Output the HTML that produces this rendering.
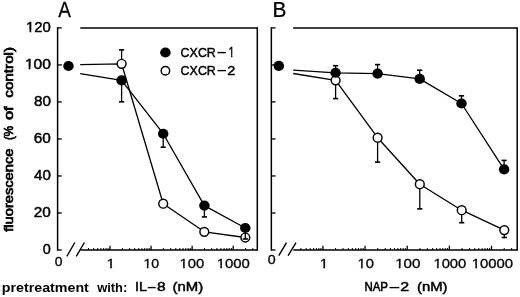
<!DOCTYPE html>
<html><head><meta charset="utf-8"><title>Figure</title>
<style>
html,body{margin:0;padding:0;background:#fff;}
svg{display:block;}
svg text{font-family:"Liberation Sans",sans-serif;fill:#000;}
svg line,svg polyline,svg circle{stroke:#000;}
</style></head><body>
<svg width="520" height="297" viewBox="0 0 520 297">
<rect x="0" y="0" width="520" height="297" fill="#fff" stroke="none"/>
<line x1="57.60" y1="27.15" x2="57.60" y2="250.75" stroke-width="1.5" stroke-linecap="butt"/>
<line x1="257.30" y1="27.15" x2="257.30" y2="250.75" stroke-width="1.5" stroke-linecap="butt"/>
<line x1="80.30" y1="27.90" x2="257.30" y2="27.90" stroke-width="1.5" stroke-linecap="butt"/>
<line x1="80.50" y1="250.00" x2="257.30" y2="250.00" stroke-width="1.5" stroke-linecap="butt"/>
<line x1="57.60" y1="250.00" x2="61.80" y2="250.00" stroke-width="1.3" stroke-linecap="butt"/>
<line x1="57.60" y1="212.98" x2="61.80" y2="212.98" stroke-width="1.3" stroke-linecap="butt"/>
<line x1="57.60" y1="175.97" x2="61.80" y2="175.97" stroke-width="1.3" stroke-linecap="butt"/>
<line x1="57.60" y1="138.95" x2="61.80" y2="138.95" stroke-width="1.3" stroke-linecap="butt"/>
<line x1="57.60" y1="101.93" x2="61.80" y2="101.93" stroke-width="1.3" stroke-linecap="butt"/>
<line x1="57.60" y1="64.92" x2="61.80" y2="64.92" stroke-width="1.3" stroke-linecap="butt"/>
<line x1="57.60" y1="27.90" x2="61.80" y2="27.90" stroke-width="1.3" stroke-linecap="butt"/>
<line x1="66.90" y1="256.30" x2="74.80" y2="242.50" stroke-width="1.4" stroke-linecap="butt"/>
<line x1="76.30" y1="256.30" x2="84.40" y2="242.50" stroke-width="1.4" stroke-linecap="butt"/>
<line x1="88.53" y1="250.00" x2="88.53" y2="248.00" stroke-width="1.0" stroke-linecap="butt"/>
<line x1="93.66" y1="250.00" x2="93.66" y2="248.00" stroke-width="1.0" stroke-linecap="butt"/>
<line x1="97.64" y1="250.00" x2="97.64" y2="248.00" stroke-width="1.0" stroke-linecap="butt"/>
<line x1="100.89" y1="250.00" x2="100.89" y2="248.00" stroke-width="1.0" stroke-linecap="butt"/>
<line x1="103.64" y1="250.00" x2="103.64" y2="248.00" stroke-width="1.0" stroke-linecap="butt"/>
<line x1="106.02" y1="250.00" x2="106.02" y2="248.00" stroke-width="1.0" stroke-linecap="butt"/>
<line x1="108.12" y1="250.00" x2="108.12" y2="248.00" stroke-width="1.0" stroke-linecap="butt"/>
<line x1="110.00" y1="250.00" x2="110.00" y2="245.80" stroke-width="1.3" stroke-linecap="butt"/>
<line x1="122.36" y1="250.00" x2="122.36" y2="248.00" stroke-width="1.0" stroke-linecap="butt"/>
<line x1="129.60" y1="250.00" x2="129.60" y2="248.00" stroke-width="1.0" stroke-linecap="butt"/>
<line x1="134.73" y1="250.00" x2="134.73" y2="248.00" stroke-width="1.0" stroke-linecap="butt"/>
<line x1="138.71" y1="250.00" x2="138.71" y2="248.00" stroke-width="1.0" stroke-linecap="butt"/>
<line x1="141.96" y1="250.00" x2="141.96" y2="248.00" stroke-width="1.0" stroke-linecap="butt"/>
<line x1="144.71" y1="250.00" x2="144.71" y2="248.00" stroke-width="1.0" stroke-linecap="butt"/>
<line x1="147.09" y1="250.00" x2="147.09" y2="248.00" stroke-width="1.0" stroke-linecap="butt"/>
<line x1="149.19" y1="250.00" x2="149.19" y2="248.00" stroke-width="1.0" stroke-linecap="butt"/>
<line x1="151.07" y1="250.00" x2="151.07" y2="245.80" stroke-width="1.3" stroke-linecap="butt"/>
<line x1="163.43" y1="250.00" x2="163.43" y2="248.00" stroke-width="1.0" stroke-linecap="butt"/>
<line x1="170.67" y1="250.00" x2="170.67" y2="248.00" stroke-width="1.0" stroke-linecap="butt"/>
<line x1="175.80" y1="250.00" x2="175.80" y2="248.00" stroke-width="1.0" stroke-linecap="butt"/>
<line x1="179.78" y1="250.00" x2="179.78" y2="248.00" stroke-width="1.0" stroke-linecap="butt"/>
<line x1="183.03" y1="250.00" x2="183.03" y2="248.00" stroke-width="1.0" stroke-linecap="butt"/>
<line x1="185.78" y1="250.00" x2="185.78" y2="248.00" stroke-width="1.0" stroke-linecap="butt"/>
<line x1="188.16" y1="250.00" x2="188.16" y2="248.00" stroke-width="1.0" stroke-linecap="butt"/>
<line x1="190.26" y1="250.00" x2="190.26" y2="248.00" stroke-width="1.0" stroke-linecap="butt"/>
<line x1="192.14" y1="250.00" x2="192.14" y2="245.80" stroke-width="1.3" stroke-linecap="butt"/>
<line x1="204.50" y1="250.00" x2="204.50" y2="248.00" stroke-width="1.0" stroke-linecap="butt"/>
<line x1="211.74" y1="250.00" x2="211.74" y2="248.00" stroke-width="1.0" stroke-linecap="butt"/>
<line x1="216.87" y1="250.00" x2="216.87" y2="248.00" stroke-width="1.0" stroke-linecap="butt"/>
<line x1="220.85" y1="250.00" x2="220.85" y2="248.00" stroke-width="1.0" stroke-linecap="butt"/>
<line x1="224.10" y1="250.00" x2="224.10" y2="248.00" stroke-width="1.0" stroke-linecap="butt"/>
<line x1="226.85" y1="250.00" x2="226.85" y2="248.00" stroke-width="1.0" stroke-linecap="butt"/>
<line x1="229.23" y1="250.00" x2="229.23" y2="248.00" stroke-width="1.0" stroke-linecap="butt"/>
<line x1="231.33" y1="250.00" x2="231.33" y2="248.00" stroke-width="1.0" stroke-linecap="butt"/>
<line x1="233.21" y1="250.00" x2="233.21" y2="245.80" stroke-width="1.3" stroke-linecap="butt"/>
<line x1="245.57" y1="250.00" x2="245.57" y2="248.00" stroke-width="1.0" stroke-linecap="butt"/>
<line x1="252.81" y1="250.00" x2="252.81" y2="248.00" stroke-width="1.0" stroke-linecap="butt"/>
<line x1="271.35" y1="27.15" x2="271.35" y2="250.75" stroke-width="1.5" stroke-linecap="butt"/>
<line x1="517.20" y1="27.15" x2="517.20" y2="250.75" stroke-width="1.5" stroke-linecap="butt"/>
<line x1="293.10" y1="27.90" x2="517.20" y2="27.90" stroke-width="1.5" stroke-linecap="butt"/>
<line x1="293.30" y1="250.00" x2="517.20" y2="250.00" stroke-width="1.5" stroke-linecap="butt"/>
<line x1="271.35" y1="250.00" x2="275.55" y2="250.00" stroke-width="1.3" stroke-linecap="butt"/>
<line x1="271.35" y1="212.98" x2="275.55" y2="212.98" stroke-width="1.3" stroke-linecap="butt"/>
<line x1="271.35" y1="175.97" x2="275.55" y2="175.97" stroke-width="1.3" stroke-linecap="butt"/>
<line x1="271.35" y1="138.95" x2="275.55" y2="138.95" stroke-width="1.3" stroke-linecap="butt"/>
<line x1="271.35" y1="101.93" x2="275.55" y2="101.93" stroke-width="1.3" stroke-linecap="butt"/>
<line x1="271.35" y1="64.92" x2="275.55" y2="64.92" stroke-width="1.3" stroke-linecap="butt"/>
<line x1="271.35" y1="27.90" x2="275.55" y2="27.90" stroke-width="1.3" stroke-linecap="butt"/>
<line x1="278.80" y1="255.60" x2="286.50" y2="242.70" stroke-width="1.4" stroke-linecap="butt"/>
<line x1="288.10" y1="255.60" x2="296.00" y2="242.70" stroke-width="1.4" stroke-linecap="butt"/>
<line x1="300.86" y1="250.00" x2="300.86" y2="248.00" stroke-width="1.0" stroke-linecap="butt"/>
<line x1="306.13" y1="250.00" x2="306.13" y2="248.00" stroke-width="1.0" stroke-linecap="butt"/>
<line x1="310.21" y1="250.00" x2="310.21" y2="248.00" stroke-width="1.0" stroke-linecap="butt"/>
<line x1="313.55" y1="250.00" x2="313.55" y2="248.00" stroke-width="1.0" stroke-linecap="butt"/>
<line x1="316.37" y1="250.00" x2="316.37" y2="248.00" stroke-width="1.0" stroke-linecap="butt"/>
<line x1="318.82" y1="250.00" x2="318.82" y2="248.00" stroke-width="1.0" stroke-linecap="butt"/>
<line x1="320.97" y1="250.00" x2="320.97" y2="248.00" stroke-width="1.0" stroke-linecap="butt"/>
<line x1="322.90" y1="250.00" x2="322.90" y2="245.80" stroke-width="1.3" stroke-linecap="butt"/>
<line x1="335.59" y1="250.00" x2="335.59" y2="248.00" stroke-width="1.0" stroke-linecap="butt"/>
<line x1="343.01" y1="250.00" x2="343.01" y2="248.00" stroke-width="1.0" stroke-linecap="butt"/>
<line x1="348.28" y1="250.00" x2="348.28" y2="248.00" stroke-width="1.0" stroke-linecap="butt"/>
<line x1="352.36" y1="250.00" x2="352.36" y2="248.00" stroke-width="1.0" stroke-linecap="butt"/>
<line x1="355.70" y1="250.00" x2="355.70" y2="248.00" stroke-width="1.0" stroke-linecap="butt"/>
<line x1="358.52" y1="250.00" x2="358.52" y2="248.00" stroke-width="1.0" stroke-linecap="butt"/>
<line x1="360.97" y1="250.00" x2="360.97" y2="248.00" stroke-width="1.0" stroke-linecap="butt"/>
<line x1="363.12" y1="250.00" x2="363.12" y2="248.00" stroke-width="1.0" stroke-linecap="butt"/>
<line x1="365.05" y1="250.00" x2="365.05" y2="245.80" stroke-width="1.3" stroke-linecap="butt"/>
<line x1="377.74" y1="250.00" x2="377.74" y2="248.00" stroke-width="1.0" stroke-linecap="butt"/>
<line x1="385.16" y1="250.00" x2="385.16" y2="248.00" stroke-width="1.0" stroke-linecap="butt"/>
<line x1="390.43" y1="250.00" x2="390.43" y2="248.00" stroke-width="1.0" stroke-linecap="butt"/>
<line x1="394.51" y1="250.00" x2="394.51" y2="248.00" stroke-width="1.0" stroke-linecap="butt"/>
<line x1="397.85" y1="250.00" x2="397.85" y2="248.00" stroke-width="1.0" stroke-linecap="butt"/>
<line x1="400.67" y1="250.00" x2="400.67" y2="248.00" stroke-width="1.0" stroke-linecap="butt"/>
<line x1="403.12" y1="250.00" x2="403.12" y2="248.00" stroke-width="1.0" stroke-linecap="butt"/>
<line x1="405.27" y1="250.00" x2="405.27" y2="248.00" stroke-width="1.0" stroke-linecap="butt"/>
<line x1="407.20" y1="250.00" x2="407.20" y2="245.80" stroke-width="1.3" stroke-linecap="butt"/>
<line x1="419.89" y1="250.00" x2="419.89" y2="248.00" stroke-width="1.0" stroke-linecap="butt"/>
<line x1="427.31" y1="250.00" x2="427.31" y2="248.00" stroke-width="1.0" stroke-linecap="butt"/>
<line x1="432.58" y1="250.00" x2="432.58" y2="248.00" stroke-width="1.0" stroke-linecap="butt"/>
<line x1="436.66" y1="250.00" x2="436.66" y2="248.00" stroke-width="1.0" stroke-linecap="butt"/>
<line x1="440.00" y1="250.00" x2="440.00" y2="248.00" stroke-width="1.0" stroke-linecap="butt"/>
<line x1="442.82" y1="250.00" x2="442.82" y2="248.00" stroke-width="1.0" stroke-linecap="butt"/>
<line x1="445.27" y1="250.00" x2="445.27" y2="248.00" stroke-width="1.0" stroke-linecap="butt"/>
<line x1="447.42" y1="250.00" x2="447.42" y2="248.00" stroke-width="1.0" stroke-linecap="butt"/>
<line x1="449.35" y1="250.00" x2="449.35" y2="245.80" stroke-width="1.3" stroke-linecap="butt"/>
<line x1="462.04" y1="250.00" x2="462.04" y2="248.00" stroke-width="1.0" stroke-linecap="butt"/>
<line x1="469.46" y1="250.00" x2="469.46" y2="248.00" stroke-width="1.0" stroke-linecap="butt"/>
<line x1="474.73" y1="250.00" x2="474.73" y2="248.00" stroke-width="1.0" stroke-linecap="butt"/>
<line x1="478.81" y1="250.00" x2="478.81" y2="248.00" stroke-width="1.0" stroke-linecap="butt"/>
<line x1="482.15" y1="250.00" x2="482.15" y2="248.00" stroke-width="1.0" stroke-linecap="butt"/>
<line x1="484.97" y1="250.00" x2="484.97" y2="248.00" stroke-width="1.0" stroke-linecap="butt"/>
<line x1="487.42" y1="250.00" x2="487.42" y2="248.00" stroke-width="1.0" stroke-linecap="butt"/>
<line x1="489.57" y1="250.00" x2="489.57" y2="248.00" stroke-width="1.0" stroke-linecap="butt"/>
<line x1="491.50" y1="250.00" x2="491.50" y2="245.80" stroke-width="1.3" stroke-linecap="butt"/>
<line x1="504.19" y1="250.00" x2="504.19" y2="248.00" stroke-width="1.0" stroke-linecap="butt"/>
<line x1="511.61" y1="250.00" x2="511.61" y2="248.00" stroke-width="1.0" stroke-linecap="butt"/>
<polyline points="80.20,64.70 121.60,63.80 163.20,203.70 204.30,231.80 245.30,237.50" fill="none" stroke-width="1.3" stroke-linejoin="round"/>
<polyline points="80.20,73.70 121.60,80.40 163.20,133.70 204.40,205.60 245.30,228.00" fill="none" stroke-width="1.3" stroke-linejoin="round"/>
<line x1="121.60" y1="63.80" x2="121.60" y2="49.90" stroke-width="1.3" stroke-linecap="butt"/>
<line x1="119.00" y1="49.90" x2="124.20" y2="49.90" stroke-width="1.6" stroke-linecap="butt"/>
<circle cx="121.60" cy="63.80" r="4.4" fill="#fff" stroke-width="1.45"/>
<circle cx="163.20" cy="203.70" r="4.4" fill="#fff" stroke-width="1.45"/>
<circle cx="204.30" cy="231.80" r="4.4" fill="#fff" stroke-width="1.45"/>
<circle cx="245.30" cy="237.50" r="4.4" fill="#fff" stroke-width="1.45"/>
<line x1="121.60" y1="80.40" x2="121.60" y2="101.80" stroke-width="1.3" stroke-linecap="butt"/>
<line x1="119.00" y1="101.80" x2="124.20" y2="101.80" stroke-width="1.6" stroke-linecap="butt"/>
<line x1="163.20" y1="133.70" x2="163.20" y2="147.20" stroke-width="1.3" stroke-linecap="butt"/>
<line x1="160.60" y1="147.20" x2="165.80" y2="147.20" stroke-width="1.6" stroke-linecap="butt"/>
<line x1="204.40" y1="205.60" x2="204.40" y2="216.90" stroke-width="1.3" stroke-linecap="butt"/>
<line x1="201.80" y1="216.90" x2="207.00" y2="216.90" stroke-width="1.6" stroke-linecap="butt"/>
<line x1="245.30" y1="228.00" x2="245.30" y2="239.00" stroke-width="1.3" stroke-linecap="butt"/>
<line x1="242.70" y1="239.00" x2="247.90" y2="239.00" stroke-width="1.6" stroke-linecap="butt"/>
<ellipse cx="121.60" cy="80.40" rx="5.25" ry="5.05" fill="#000" stroke="none"/>
<ellipse cx="163.20" cy="133.70" rx="5.25" ry="5.05" fill="#000" stroke="none"/>
<ellipse cx="204.40" cy="205.60" rx="5.25" ry="5.05" fill="#000" stroke="none"/>
<ellipse cx="245.30" cy="228.00" rx="5.25" ry="5.05" fill="#000" stroke="none"/>
<ellipse cx="68.50" cy="66.00" rx="5.25" ry="5.05" fill="#000" stroke="none"/>
<polyline points="293.20,73.50 335.60,80.30 377.60,137.70 419.80,184.20 461.70,210.20 504.30,230.10" fill="none" stroke-width="1.3" stroke-linejoin="round"/>
<polyline points="293.20,70.10 335.60,72.80 377.60,73.60 419.70,78.90 461.50,103.50 504.10,169.40" fill="none" stroke-width="1.3" stroke-linejoin="round"/>
<line x1="335.60" y1="80.30" x2="335.60" y2="98.60" stroke-width="1.3" stroke-linecap="butt"/>
<line x1="333.00" y1="98.60" x2="338.20" y2="98.60" stroke-width="1.6" stroke-linecap="butt"/>
<line x1="377.60" y1="137.70" x2="377.60" y2="162.10" stroke-width="1.3" stroke-linecap="butt"/>
<line x1="375.00" y1="162.10" x2="380.20" y2="162.10" stroke-width="1.6" stroke-linecap="butt"/>
<line x1="419.80" y1="184.20" x2="419.80" y2="208.90" stroke-width="1.3" stroke-linecap="butt"/>
<line x1="417.20" y1="208.90" x2="422.40" y2="208.90" stroke-width="1.6" stroke-linecap="butt"/>
<line x1="461.70" y1="210.20" x2="461.70" y2="222.70" stroke-width="1.3" stroke-linecap="butt"/>
<line x1="459.10" y1="222.70" x2="464.30" y2="222.70" stroke-width="1.6" stroke-linecap="butt"/>
<line x1="504.30" y1="230.10" x2="504.30" y2="237.50" stroke-width="1.3" stroke-linecap="butt"/>
<line x1="501.70" y1="237.50" x2="506.90" y2="237.50" stroke-width="1.6" stroke-linecap="butt"/>
<circle cx="335.60" cy="80.30" r="4.4" fill="#fff" stroke-width="1.45"/>
<circle cx="377.60" cy="137.70" r="4.4" fill="#fff" stroke-width="1.45"/>
<circle cx="419.80" cy="184.20" r="4.4" fill="#fff" stroke-width="1.45"/>
<circle cx="461.70" cy="210.20" r="4.4" fill="#fff" stroke-width="1.45"/>
<circle cx="504.30" cy="230.10" r="4.4" fill="#fff" stroke-width="1.45"/>
<line x1="335.60" y1="72.80" x2="335.60" y2="65.70" stroke-width="1.3" stroke-linecap="butt"/>
<line x1="333.00" y1="65.70" x2="338.20" y2="65.70" stroke-width="1.6" stroke-linecap="butt"/>
<line x1="377.60" y1="73.60" x2="377.60" y2="64.60" stroke-width="1.3" stroke-linecap="butt"/>
<line x1="375.00" y1="64.60" x2="380.20" y2="64.60" stroke-width="1.6" stroke-linecap="butt"/>
<line x1="419.70" y1="78.90" x2="419.70" y2="70.20" stroke-width="1.3" stroke-linecap="butt"/>
<line x1="417.10" y1="70.20" x2="422.30" y2="70.20" stroke-width="1.6" stroke-linecap="butt"/>
<line x1="461.50" y1="103.50" x2="461.50" y2="95.80" stroke-width="1.3" stroke-linecap="butt"/>
<line x1="458.90" y1="95.80" x2="464.10" y2="95.80" stroke-width="1.6" stroke-linecap="butt"/>
<line x1="504.10" y1="169.40" x2="504.10" y2="160.40" stroke-width="1.3" stroke-linecap="butt"/>
<line x1="501.50" y1="160.40" x2="506.70" y2="160.40" stroke-width="1.6" stroke-linecap="butt"/>
<ellipse cx="335.60" cy="72.80" rx="5.25" ry="5.05" fill="#000" stroke="none"/>
<ellipse cx="377.60" cy="73.60" rx="5.25" ry="5.05" fill="#000" stroke="none"/>
<ellipse cx="419.70" cy="78.90" rx="5.25" ry="5.05" fill="#000" stroke="none"/>
<ellipse cx="461.50" cy="103.50" rx="5.25" ry="5.05" fill="#000" stroke="none"/>
<ellipse cx="504.10" cy="169.40" rx="5.25" ry="5.05" fill="#000" stroke="none"/>
<ellipse cx="278.80" cy="65.90" rx="5.25" ry="5.05" fill="#000" stroke="none"/>
<ellipse cx="165.40" cy="52.50" rx="5.25" ry="5.05" fill="#000" stroke="none"/>
<circle cx="165.40" cy="70.80" r="4.25" fill="#fff" stroke-width="1.4"/>
<g><text transform="translate(180.58,57.10) scale(0.9146,1)" font-size="13.62" stroke="#000" stroke-width="0.45">CXCR</text><text transform="translate(217.50,58.11) scale(1.1466,1.5713)" font-size="13.2">–</text><text transform="translate(228.60,57.10) scale(0.7697,1)" font-size="13.82" stroke="#000" stroke-width="0.45">1</text><rect x="228.85" y="54.88" width="2.24" height="3.04" fill="#fff"/><rect x="232.39" y="54.88" width="2.18" height="3.04" fill="#fff"/></g>
<g><text transform="translate(180.58,75.40) scale(0.9146,1)" font-size="13.62" stroke="#000" stroke-width="0.45">CXCR</text><text transform="translate(217.50,76.11) scale(1.1466,1.5713)" font-size="13.2">–</text><text transform="translate(227.37,75.40) scale(1.0650,1)" font-size="13.62" stroke="#000" stroke-width="0.45">2</text></g>
<text transform="translate(58.15,17.00) scale(0.8491,1)" font-size="22.40" stroke="#000" stroke-width="0.25">A</text>
<text transform="translate(272.58,16.90) scale(0.9816,1)" font-size="21.24" stroke="#000" stroke-width="0.25">B</text>
<text transform="translate(25.98,32.30) scale(1.0728,1)" font-size="13.91" stroke="#000" stroke-width="0.45">120</text>
<rect x="26.34" y="30.08" width="3.15" height="3.05" fill="#fff"/>
<rect x="31.30" y="30.08" width="3.06" height="3.05" fill="#fff"/>
<text transform="translate(24.93,69.32) scale(1.1191,1)" font-size="13.91" stroke="#000" stroke-width="0.45">100</text>
<rect x="25.30" y="67.09" width="3.28" height="3.05" fill="#fff"/>
<rect x="30.48" y="67.09" width="3.19" height="3.05" fill="#fff"/>
<text transform="translate(33.95,106.33) scale(1.0961,1)" font-size="13.91" stroke="#000" stroke-width="0.45">80</text>
<text transform="translate(33.83,143.35) scale(1.1041,1)" font-size="13.91" stroke="#000" stroke-width="0.45">60</text>
<text transform="translate(34.06,180.37) scale(1.0889,1)" font-size="13.91" stroke="#000" stroke-width="0.45">40</text>
<text transform="translate(33.83,217.38) scale(1.1041,1)" font-size="13.91" stroke="#000" stroke-width="0.45">20</text>
<text transform="translate(42.82,254.40) scale(1.0391,1)" font-size="13.91" stroke="#000" stroke-width="0.45">0</text>
<text transform="translate(54.65,266.20) scale(1.0479,1)" font-size="13.19" stroke="#000" stroke-width="0.32">0</text>
<text transform="translate(110.70,268.30) scale(1.1600,1)" text-anchor="middle" font-size="13.20" stroke="#000" stroke-width="0.32">1</text>
<rect x="106.87" y="266.20" width="3.23" height="2.86" fill="#fff"/>
<rect x="111.83" y="266.20" width="3.14" height="2.86" fill="#fff"/>
<text transform="translate(143.44,268.30) scale(1.0489,1)" font-size="13.48" stroke="#000" stroke-width="0.32">10</text>
<rect x="143.84" y="266.18" width="2.98" height="2.88" fill="#fff"/>
<rect x="148.41" y="266.18" width="2.90" height="2.88" fill="#fff"/>
<text transform="translate(179.59,268.30) scale(1.0975,1)" font-size="13.48" stroke="#000" stroke-width="0.32">100</text>
<rect x="180.01" y="266.18" width="3.12" height="2.88" fill="#fff"/>
<rect x="184.80" y="266.18" width="3.03" height="2.88" fill="#fff"/>
<text transform="translate(216.68,268.30) scale(1.1078,1)" font-size="13.48" stroke="#000" stroke-width="0.32">1000</text>
<rect x="217.10" y="266.18" width="3.15" height="2.88" fill="#fff"/>
<rect x="221.93" y="266.18" width="3.06" height="2.88" fill="#fff"/>
<text transform="translate(267.73,263.50) scale(1.0567,1)" font-size="13.48" stroke="#000" stroke-width="0.32">0</text>
<text transform="translate(323.90,268.40) scale(1.1600,1)" text-anchor="middle" font-size="13.20" stroke="#000" stroke-width="0.32">1</text>
<rect x="320.07" y="266.30" width="3.23" height="2.86" fill="#fff"/>
<rect x="325.03" y="266.30" width="3.14" height="2.86" fill="#fff"/>
<text transform="translate(357.49,268.40) scale(1.0820,1)" font-size="13.62" stroke="#000" stroke-width="0.32">10</text>
<rect x="357.91" y="266.26" width="3.11" height="2.90" fill="#fff"/>
<rect x="362.68" y="266.26" width="3.02" height="2.90" fill="#fff"/>
<text transform="translate(395.16,268.40) scale(1.1143,1)" font-size="13.62" stroke="#000" stroke-width="0.32">100</text>
<rect x="395.59" y="266.26" width="3.20" height="2.90" fill="#fff"/>
<rect x="400.50" y="266.26" width="3.11" height="2.90" fill="#fff"/>
<text transform="translate(433.39,268.40) scale(1.0891,1)" font-size="13.62" stroke="#000" stroke-width="0.32">1000</text>
<rect x="433.81" y="266.26" width="3.13" height="2.90" fill="#fff"/>
<rect x="438.61" y="266.26" width="3.04" height="2.90" fill="#fff"/>
<text transform="translate(471.78,268.40) scale(1.0927,1)" font-size="13.62" stroke="#000" stroke-width="0.32">10000</text>
<rect x="472.20" y="266.26" width="3.14" height="2.90" fill="#fff"/>
<rect x="477.02" y="266.26" width="3.05" height="2.90" fill="#fff"/>
<g><text transform="translate(1.87,292.10) scale(1.0478,1)" font-size="13.60" font-weight="bold">pretreatment</text> <text transform="translate(97.13,292.10) scale(0.9487,1)" font-size="13.60" font-weight="bold">with:</text> <g><text transform="translate(134.98,291.30) scale(1.0441,1)" font-size="13.67" stroke="#000" stroke-width="0.5">IL</text><text transform="translate(147.80,292.77) scale(1.0784,1.5152)" font-size="13.2">–</text><text transform="translate(156.94,291.30) scale(1.1525,1)" font-size="13.48" stroke="#000" stroke-width="0.5">8</text></g> <text transform="translate(172.57,291.40) scale(1.0972,1)" font-size="13.60" stroke="#000" stroke-width="0.5">(nM)</text></g>
<g><g><text transform="translate(364.46,291.00) scale(0.8370,1)" font-size="13.67" stroke="#000" stroke-width="0.6">NAP</text><text transform="translate(389.50,292.57) scale(1.3377,1.5152)" font-size="13.2">–</text><text transform="translate(400.20,291.00) scale(1.1905,1)" font-size="13.48" stroke="#000" stroke-width="0.5">2</text></g> <text transform="translate(416.97,291.20) scale(1.0934,1)" font-size="13.60" stroke="#000" stroke-width="0.5">(nM)</text></g>
<g><text transform="translate(13.35,231.77) rotate(-90) scale(1.1854,1)" font-size="12.4" stroke="#000" stroke-width="0.7">fluorescence</text> <text transform="translate(13.35,140.08) rotate(-90) scale(0.9412,1)" font-size="12.4" stroke="#000" stroke-width="0.7">(%</text> <text transform="translate(13.35,120.05) rotate(-90) scale(1.3229,1)" font-size="12.4" stroke="#000" stroke-width="0.7">of</text> <text transform="translate(13.35,97.70) rotate(-90) scale(1.2284,1)" font-size="12.4" stroke="#000" stroke-width="0.7">control)</text></g>
</svg>
</body></html>
